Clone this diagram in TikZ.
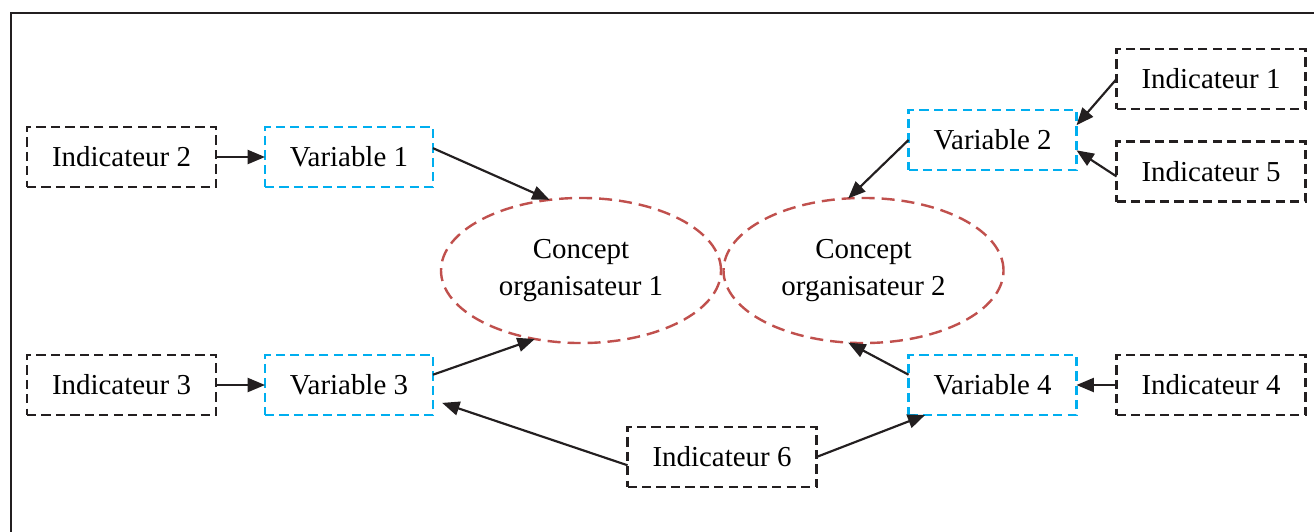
\documentclass[tikz,border=0pt]{standalone}
\usepackage{fontspec}
\setmainfont{Liberation Serif}
\usetikzlibrary{arrows.meta, shapes.geometric}

\definecolor{indgray}{RGB}{35,31,32}
\definecolor{varblue}{RGB}{0,174,239}
\definecolor{conred}{RGB}{192,80,77}

\begin{document}
\begin{tikzpicture}[
		x = 0.415pt, y = -0.415pt, % one unit = one pixel, y downwards
		> = {Triangle[length=7.2pt, width=5.8pt]}, % arrow head style
		line width = 0.9pt, % line style
		font = \fontsize{12}{15.4}\selectfont
		]
		
		\tikzstyle{indbox}=[
		draw = indgray,
		line width = 1pt,
		dash pattern = on 3.8pt off 2.2pt,
		minimum width = 78.4pt,
		minimum height = 24.9pt,
		inner sep = 0pt, outer sep = 0pt
		]
		\tikzstyle{varbox}=[
		indbox,
		draw = varblue,
		minimum width = 69.7pt
		]
		\tikzstyle{conellipse}=[
		ellipse,
		draw = conred,
		line width = 1pt,
		dash pattern = on 5.4pt off 2.9pt,
		minimum width = 116.2pt,
		minimum height = 60.2pt,
		align = center,
		inner sep = 0pt, outer sep = 0pt
		]
		
		\useasboundingbox (0,0) rectangle (1314,531);
		\clip (0,0) rectangle (1314,531);
		\draw[indgray] (11,13) rectangle (1340,560);
		
		\node[indbox] (ind_2) at (121.5,157) {Indicateur 2};
		\node[varbox] (var_1) at (349,157) {Variable 1};
		\node[indbox] (ind_3) at (121.5,385) {Indicateur 3};
		\node[varbox] (var_3) at (349,385) {Variable 3};
		\node[conellipse] (con_1) at (581,270.5) {Concept\\organisateur 1};
		\node[conellipse] (con_2) at (863.5,270.5) {Concept\\organisateur 2};
		\node[varbox] (var_2) at (992.5,140) {Variable 2};
		\node[varbox] (var_4) at (992.5,385) {Variable 4};
		\node[indbox] (ind_1) at (1211,79) {Indicateur 1};
		\node[indbox] (ind_5) at (1211,171.5) {Indicateur 5};
		\node[indbox] (ind_4) at (1211,385) {Indicateur 4};
		\node[indbox] (ind_6) at (722,457) {Indicateur 6};
		
		\path[->, indgray] (ind_2) edge (var_1);
		\path[->, indgray] (ind_3) edge (var_3);
		\path[->, indgray] (var_1.6) edge (con_1.114);
		\path[->, indgray] (var_3.7) edge (con_1.236);
		\path[->, indgray] (var_2.west) edge (con_2.102);
		\path[->, indgray] (var_4.173) edge (con_2.258);
		\path[->, indgray] (ind_1.west) edge (var_2.10);
		\path[->, indgray] (ind_5.183) edge (var_2.353);
		\path[->, indgray] (ind_4) edge (var_4);
		\path[->, indgray, shorten > = 4pt] (ind_6.185) edge (var_3.350);
		\path[->, indgray] (ind_6.east) edge (var_4.204);
		\end{tikzpicture}
\end{document}
